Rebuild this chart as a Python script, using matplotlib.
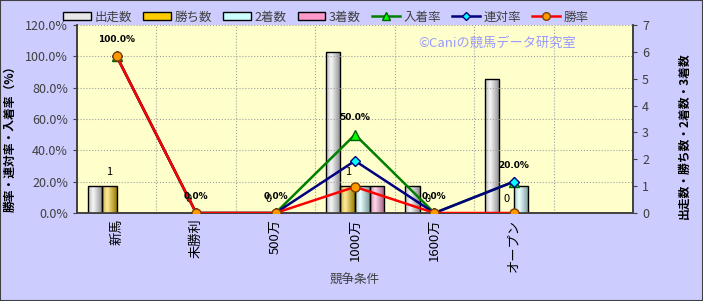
import numpy as np
import matplotlib
matplotlib.use('Agg')
import matplotlib.pyplot as plt
from matplotlib.patches import Patch, Rectangle
from matplotlib.lines import Line2D
from matplotlib.colors import to_rgb

plt.rcParams['font.family'] = ['Noto Sans CJK JP', 'DejaVu Sans']

# data
categories = ['新馬', '未勝利', '500万', '1000万', '1600万', 'オープン', '']
starts = [1, 0, 0, 6, 1, 5, None]
wins = [1, 0, 0, 1, 0, 0, None]
seconds = [0, 0, 0, 1, 0, 1, None]
thirds = [0, 0, 0, 1, 0, 0, None]
place_rate = [100.0, 0.0, 0.0, 50.0, 0.0, 20.0]
quinella_rate = [100.0, 0.0, 0.0, 33.3, 0.0, 20.0]
win_rate = [100.0, 0.0, 0.0, 16.7, 0.0, 0.0]

bar_names = ['出走数', '勝ち数', '2着数', '3着数']
bar_colors = ['#e8e8e8', '#ffcc00', '#ccffff', '#ff99cc']

fig = plt.figure(figsize=(7.03, 3.01), dpi=100)
fig.patch.set_facecolor('#ccccff')
fig.patches.append(Rectangle((0, 0), 1, 1, transform=fig.transFigure, fill=False,
                             edgecolor='#404040', linewidth=1.5))

ax = fig.add_axes([77 / 703, 88 / 301, 556 / 703, 188 / 301])
ax.set_facecolor('#ffffcc')
ax2 = ax.twinx()
ax2.patch.set_visible(False)

x = np.arange(len(categories))
w = 0.183


def shade(col):
    # cylinder style gradient across the bar width
    base = np.array(to_rgb(col))
    t = np.linspace(0, 1, 40)
    k = np.clip(1 - np.abs(t - 0.35) / 0.65, 0, 1)
    dark = base * 0.6
    light = base * 0.4 + 0.6
    img = dark[None, :] * (1 - k[:, None]) + light[None, :] * k[:, None]
    return img[None, :, :]


# bars on the count scale (right side)
for i, (vals, col) in enumerate(zip([starts, wins, seconds, thirds], bar_colors)):
    xs = [xi for xi, v in zip(x, vals) if v is not None]
    vs = [v for v in vals if v is not None]
    bars = ax.bar(np.array(xs) + (i - 1.5) * w, vs, width=w, color=col,
                  edgecolor='black', linewidth=1.0, zorder=3)
    for p in bars:
        if p.get_height() <= 0:
            p.set_visible(False)
            continue
        x0, y0 = p.get_x(), p.get_y()
        im = ax.imshow(shade(col), extent=[x0, x0 + p.get_width(), y0, y0 + p.get_height()],
                       aspect='auto', zorder=2.9, interpolation='bilinear')
        im.set_clip_path(p)
        p.set_facecolor('none')
    if i == 1:
        for xi, v in zip(xs, vs):
            ax.annotate(str(v), (xi + (i - 1.5) * w, v), xytext=(0, 10),
                        textcoords='offset points', ha='center', va='center',
                        fontsize=8, color='black', zorder=5)

ax.set_xlim(-0.5, len(categories) - 0.5)
ax.set_ylim(0, 7)
ax.yaxis.tick_right()
ax.yaxis.set_label_position('right')
ax.set_yticks(range(0, 8))

# rate lines on the percent scale (left side)
px = x[:len(place_rate)]
ax2.plot(px, place_rate, color='#008000', lw=1.8, marker='^', ms=7,
         mfc='#00ff00', mec='#006000', zorder=4)
ax2.plot(px, quinella_rate, color='#000080', lw=1.8, marker='D', ms=5,
         mfc='#00ffff', mec='#000080', zorder=4)
ax2.plot(px, win_rate, color='#ff0000', lw=1.8, marker='o', ms=6.5,
         mfc='#ff9900', mec='#804000', zorder=4)
for xi, v in zip(px, place_rate):
    ax2.annotate(f'{v:.1f}%', (xi, v), xytext=(0, 12), textcoords='offset points',
                 ha='center', va='center', fontsize=6.5, fontweight='bold',
                 family='DejaVu Sans', zorder=5)
ax2.set_ylim(0, 120)
ax2.set_yticks(np.arange(0, 121, 20))
ax2.set_yticklabels([f'{v:.1f}%' for v in np.arange(0, 121, 20)])
ax2.yaxis.tick_left()
ax2.yaxis.set_label_position('left')

# grid
ax.set_xticks(x)
ax.set_xticklabels(categories, rotation=90, fontsize=9.5, color='black')
ax.set_xticks(np.arange(0.5, len(categories) - 0.5), minor=True)
ax.grid(True, which='minor', axis='x', color='#a0a0a0', ls=':', lw=0.8, zorder=0)
for gy in np.arange(20, 121, 20):
    ax2.axhline(gy, color='#a0a0a0', ls=':', lw=0.8, zorder=0)
ax.tick_params(axis='x', which='both', length=0, pad=4)
ax.tick_params(axis='y', length=3, labelsize=9, colors='#404040')
ax2.tick_params(axis='y', length=3, labelsize=9, colors='#404040')

for a in (ax, ax2):
    for s in a.spines.values():
        s.set_color('#404040')
        s.set_linewidth(1.2)
    a.spines['top'].set_visible(False)

ax2.set_ylabel('勝率・連対率・入着率（%）', fontsize=8.5, fontweight='bold')
ax2.yaxis.set_label_coords(-0.108, 0.41)
ax.set_ylabel('出走数・勝ち数・2着数・3着数', fontsize=8.5, fontweight='bold')
ax.yaxis.set_label_coords(1.081, 0.41)
ax.set_xlabel('競争条件', fontsize=9, color='#404040', labelpad=2)

ax.text(0.756, 0.90, '©Caniの競馬データ研究室', transform=ax.transAxes, ha='center',
        va='center', fontsize=9.5, color='#9999ff', zorder=6)

handles = [Patch(facecolor=c, edgecolor='black') for c in bar_colors]
handles += [Line2D([], [], color='#008000', lw=1.8, marker='^', ms=6, mfc='#00ff00', mec='#006000'),
            Line2D([], [], color='#000080', lw=1.8, marker='D', ms=4, mfc='#00ffff', mec='#000080'),
            Line2D([], [], color='#ff0000', lw=1.8, marker='o', ms=5.5, mfc='#ff9900', mec='#804000')]
labels = bar_names + ['入着率', '連対率', '勝率']
fig.legend(handles, labels, loc='center', bbox_to_anchor=(326 / 703, 1 - 17 / 301), ncol=7,
           frameon=False, fontsize=9, handlelength=2.2, handleheight=0.6,
           columnspacing=0.9, handletextpad=0.3, labelcolor='#404040')

fig.savefig('out.png', dpi=100, facecolor=fig.get_facecolor())
